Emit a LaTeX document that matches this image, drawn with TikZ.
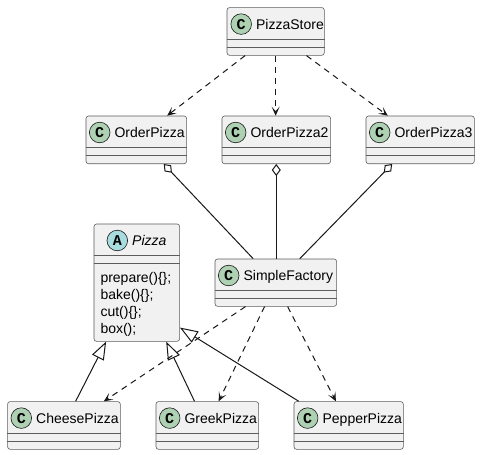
\documentclass[tikz,border=0pt]{standalone}
\usepackage{fontspec}
\setmainfont{Liberation Sans}
\newfontfamily\circfont{Liberation Mono}
\usetikzlibrary{arrows.meta,calc}
\definecolor{boxfill}{HTML}{F1F1F1}
\definecolor{boxline}{HTML}{181818}
\definecolor{cgreen}{HTML}{ADD1B2}
\definecolor{acyan}{HTML}{A9DCDF}
\tikzset{
  umlbox/.style={draw=boxline!70, fill=boxfill, line width=0.6pt, rounded corners=2.5pt, inner sep=0pt},
  sepline/.style={draw=boxline!70, line width=0.6pt},
  circ/.style={circle, draw=boxline, line width=0.6pt, minimum size=20.6pt, inner sep=0pt, font=\circfont\bfseries\fontsize{15}{15}\selectfont},
  lbl/.style={inner sep=0pt, anchor=base west, font=\fontsize{14}{14}\selectfont, text=black},
  conn/.style={draw=boxline, line width=1pt},
  dep/.style={conn, dash pattern=on 6pt off 5pt, -{Stealth[length=9pt,width=8pt,inset=4.5pt]}},
  agg/.style={conn, {Diamond[length=12pt,width=9pt,fill=white]}-},
  inh/.style={conn, -{Triangle[length=18pt,width=13pt,fill=white]}}
}
% #1 name #2 x #3 y #4 w #5 h #6 circle colour #7 letter #8 title #9 circle x-offset
\newcommand{\classbox}[9]{%
  \node[umlbox, minimum width=#4pt, minimum height=#5pt, anchor=north west] (#1) at (#2,#3) {};
  \draw[sepline] ($(#1.north west)+(0,32)$) -- ($(#1.north east)+(0,32)$);
  \draw[sepline] ($(#1.north west)+(0,39.7)$) -- ($(#1.north east)+(0,39.7)$);
  \node[circ, fill=#6] (#1c) at ($(#1.north west)+(#9,16.8)$) {#7};
  \node[lbl] (#1t) at ($(#1.north west)+(#9,22)+(14.7,0)$) {#8};
}
\begin{document}
\begin{tikzpicture}[x=1pt,y=-1pt]
\useasboundingbox[fill=white] (0,0) rectangle (480,455);

\classbox{ps}{226.7}{7.3}{97.3}{47.7}{cgreen}{C}{PizzaStore}{14.5}
\classbox{opa}{85.7}{115.7}{100.6}{47.7}{cgreen}{C}{OrderPizza}{14}
\classbox{opb}{221.7}{115.7}{108.6}{47.7}{cgreen}{C}{OrderPizza2}{14}
\classbox{opc}{365.7}{115.7}{108.3}{47.7}{cgreen}{C}{OrderPizza3}{14}
\classbox{sf}{214.7}{258.7}{121.6}{47.3}{cgreen}{C}{SimpleFactory}{14}
\classbox{pz}{93.7}{223.7}{85.6}{117.3}{acyan}{A}{\itshape Pizza}{23.6}
\classbox{cp}{7.3}{401.3}{112.7}{47.7}{cgreen}{C}{CheesePizza}{14}
\classbox{gp}{155.7}{401.3}{102.6}{47.7}{cgreen}{C}{GreekPizza}{14}
\classbox{pp}{293.7}{401.3}{109.3}{47.7}{cgreen}{C}{PepperPizza}{14}

\node[lbl] (m1) at (100.3,282) {prepare()\{\};};
\node[lbl] (m2) at (100.3,299) {bake()\{\};};
\node[lbl] (m3) at (100.3,316) {cut()\{\};};
\node[lbl] (m4) at (100.3,333) {box();};

% dependencies from PizzaStore
\draw[dep] ($(ps.south west)!0.188!(ps.south east)$) -- ($(opa.north west)!0.805!(opa.north east)$);
\draw[dep] (ps.south) -- (ps.south |- opb.north);
\draw[dep] ($(ps.south west)!0.815!(ps.south east)$) -- ($(opc.north west)!0.203!(opc.north east)$);

% aggregations
\draw[agg] ($(opa.south west)!0.771!(opa.south east)$) -- ($(sf.north west)!0.315!(sf.north east)$);
\draw[agg] (opb.south) -- (opb.south |- sf.north);
\draw[agg] ($(opc.south west)!0.243!(opc.south east)$) -- ($(sf.north west)!0.696!(sf.north east)$);

% inheritance
\draw[inh] ($(cp.north west)!0.603!(cp.north east)$) -- ($(pz.south west)!0.144!(pz.south east)$);
\draw[inh] ($(gp.north west)!0.376!(gp.north east)$) -- ($(pz.south west)!0.841!(pz.south east)$);
\draw[inh] ($(pp.north west)!0.046!(pp.north east)$) -- ($(pz.north east)!0.881!(pz.south east)$);

% dependencies from SimpleFactory
\draw[dep] ($(sf.south west)!0.252!(sf.south east)$) -- ($(cp.north west)!0.852!(cp.north east)$);
\draw[dep] ($(sf.south west)!0.408!(sf.south east)$) -- ($(gp.north west)!0.610!(gp.north east)$);
\draw[dep] ($(sf.south west)!0.597!(sf.south east)$) -- ($(pp.north west)!0.384!(pp.north east)$);
\end{tikzpicture}
\end{document}
